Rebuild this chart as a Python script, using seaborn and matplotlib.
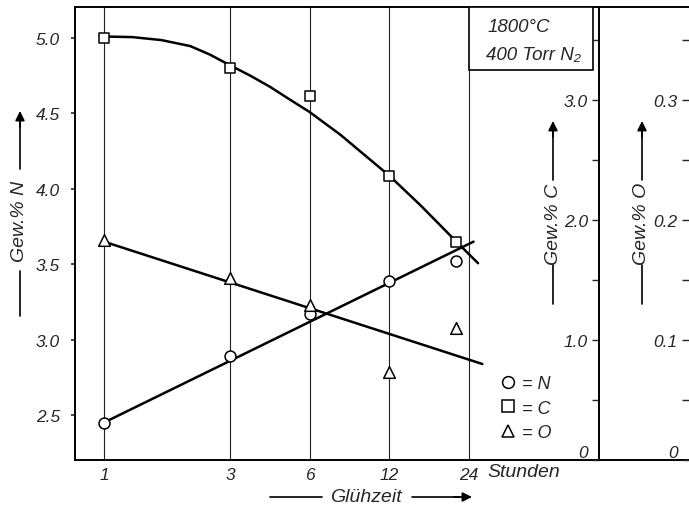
import numpy as np
import pandas as pd
import matplotlib
matplotlib.use("Agg")
import matplotlib.pyplot as plt
import seaborn as sns
from matplotlib.patches import Rectangle
from matplotlib.lines import Line2D
from matplotlib.ticker import NullLocator

# ---------------- data ----------------
hours = [1, 3, 6, 12, 21.5]
n_vals = [2.45, 2.89, 3.17, 3.39, 3.52]          # Gew.% N
c_vals = [3.52, 3.27, 3.03, 2.37, 1.82]          # Gew.% C
o_vals = [0.183, 0.152, 0.129, 0.073, 0.110]     # Gew.% O

n_fit_hours = [1, 25]
n_fit = [2.45, 3.65]
o_fit_hours = [1, 27]
o_fit = [0.182, 0.080]
c_fit_hours = [1, 1.28, 1.65, 2.12, 2.51, 3, 3.6, 4.25, 5.0, 6, 7.85, 10.2, 12, 15.8, 21.3, 26]
c_fit = [3.53, 3.525, 3.50, 3.45, 3.38, 3.29, 3.20, 3.11, 3.01, 2.90, 2.71, 2.50, 2.37, 2.12, 1.83, 1.64]

tick_hours = [1, 3, 6, 12, 24]
tick_labels = ["1", "3", "6", "12", "24"]
n_ticks = [2.5, 3.0, 3.5, 4.0, 4.5, 5.0]
n_tick_labels = ["2.5", "3.0", "3.5", "4.0", "4.5", "5.0"]
c_ticks = [0, 0.5, 1.0, 1.5, 2.0, 2.5, 3.0, 3.5]
c_tick_labels = ["0", "", "1.0", "", "2.0", "", "3.0", ""]
o_ticks = [0, 0.05, 0.1, 0.15, 0.2, 0.25, 0.3, 0.35]
o_tick_labels = ["0", "", "0.1", "", "0.2", "", "0.3", ""]

legend_labels = ["= N", "= C", "= O"]

# ---------------- style ----------------
sns.set_style("white")
plt.rcParams["font.family"] = ["Liberation Sans", "DejaVu Sans"]
plt.rcParams["font.style"] = "italic"
plt.rcParams["font.size"] = 12

fig = plt.figure(figsize=(6.89, 5.10), dpi=100)
ax = fig.add_axes([0.1089, 0.0961, 0.8904, 0.888])
ax.set_xscale("log")

LW = 1.8
mk = dict(facecolor="white", edgecolor="black", linewidth=1.1, zorder=5)

# N on main axis
sns.lineplot(x=n_fit_hours, y=n_fit, ax=ax, color="black", lw=LW,
             sort=False, estimator=None, zorder=4)
sns.scatterplot(x=hours, y=n_vals, ax=ax, marker="o", s=62, **mk)

# C axis
ax_c = ax.twinx()
sns.lineplot(x=c_fit_hours, y=c_fit, ax=ax_c, color="black", lw=LW,
             sort=False, estimator=None, zorder=4)
sns.scatterplot(x=hours, y=c_vals, ax=ax_c, marker="s", s=62, **mk)

# O axis
ax_o = ax.twinx()
sns.lineplot(x=o_fit_hours, y=o_fit, ax=ax_o, color="black", lw=LW,
             sort=False, estimator=None, zorder=4)
sns.scatterplot(x=hours, y=o_vals, ax=ax_o, marker="^", s=70, **mk)

# ---------------- axes ----------------
xmin, xmax = 0.777, 162.6
for a in (ax, ax_c, ax_o):
    a.set_xlim(xmin, xmax)
    a.set_xlabel("")
    a.set_ylabel("")
ax.set_ylim(2.2016, 5.2056)
ax_c.set_ylim(0, 3.775)
ax_o.set_ylim(0, 0.3775)

ax.set_xticks(tick_hours, labels=tick_labels)
ax.xaxis.set_minor_locator(NullLocator())
ax.tick_params(axis="x", length=0, pad=5, labelsize=12.5)
ax.set_yticks(n_ticks, labels=n_tick_labels)
ax.tick_params(axis="y", direction="out", length=3, width=1.2, pad=8, labelsize=12.5)
ax.grid(True, axis="x", which="major", color="#222222", lw=0.8)
ax.grid(False, axis="y")

for s in ("left", "bottom", "top"):
    ax.spines[s].set_visible(True)
    ax.spines[s].set_color("black")
    ax.spines[s].set_linewidth(1.4)
ax.spines["right"].set_visible(False)

c_frac = (599 - 75) / 613.5
for a, ticks, labels, pos, vis in ((ax_c, c_ticks, c_tick_labels, c_frac, True),
                                   (ax_o, o_ticks, o_tick_labels, 1.0, False)):
    for s in ("right", "top", "bottom"):
        a.spines[s].set_visible(False)
    a.spines["left"].set_visible(vis)
    a.spines["left"].set_position(("axes", pos))
    a.spines["left"].set_color("black")
    a.spines["left"].set_linewidth(1.4)
    a.yaxis.set_ticks_position("left")
    a.set_yticks(ticks, labels=labels)
    a.tick_params(axis="y", left=True, labelleft=True, right=False, labelright=False,
                  direction="out", length=5, width=1.0, pad=3, labelsize=12.5)
    a.grid(False)
    a.get_yticklabels()[0].set_verticalalignment("bottom")
    a.patch.set_visible(False)

# ---------------- condition box ----------------
x_box = (469 - 75) / 613.5
x_box2 = (593 - 75) / 613.5
y_box = (461 - 71) / 453
ax.add_patch(Rectangle((x_box, y_box), x_box2 - x_box, 1 - y_box,
                       transform=ax.transAxes, facecolor="white",
                       edgecolor="black", lw=1.2, zorder=3))
ax.text((487 - 75) / 613.5, (461 - 27) / 453, "1800°C", transform=ax.transAxes,
        ha="left", va="center", fontsize=13.5, zorder=6)
ax.text((486 - 75) / 613.5, (461 - 55) / 453, "400 Torr N₂", transform=ax.transAxes,
        ha="left", va="center", fontsize=13.5, zorder=6)

# ---------------- legend ----------------
handles = [Line2D([], [], ls="none", marker=m, ms=8.5, mfc="white", mec="black", mew=1.1)
           for m in ("o", "s", "^")]
leg = ax_o.legend(handles, legend_labels, loc="upper left",
                  bbox_to_anchor=((500 - 75) / 613.5, (461 - 376) / 453),
                  frameon=False, handlelength=0.9, handletextpad=0.3,
                  borderpad=0, borderaxespad=0, labelspacing=0.42, fontsize=13)

# ---------------- axis titles with arrows ----------------
def fx(px):
    return px / 689

def fy(py):
    return (510 - py) / 510

def vlabel(x, text, y_text, y_line_bot, y_text_bot, y_text_top, y_arrow_top):
    fig.text(fx(x), fy(y_text), text, rotation=90, ha="center", va="center",
             fontsize=14)
    fig.add_artist(Line2D([fx(x), fx(x)], [fy(y_line_bot), fy(y_text_bot)],
                          color="black", lw=1.2, transform=fig.transFigure))
    fig.add_artist(Line2D([fx(x), fx(x)], [fy(y_text_top), fy(y_arrow_top + 10)],
                          color="black", lw=1.2, transform=fig.transFigure))
    ax.annotate("", xy=(fx(x), fy(y_arrow_top)), xytext=(fx(x), fy(y_arrow_top + 16)),
                xycoords="figure fraction", textcoords="figure fraction",
                arrowprops=dict(arrowstyle="-|>", color="black", lw=1.2,
                                mutation_scale=14, shrinkA=0, shrinkB=0))

vlabel(20, "Gew.% N", 221, 317, 272, 170, 112)
vlabel(553, "Gew.% C", 224, 305, 266, 181, 122)
vlabel(642, "Gew.% O", 224, 305, 266, 181, 122)

fig.text(fx(366), fy(498), "Glühzeit", ha="center", va="center", fontsize=14)
fig.add_artist(Line2D([fx(270), fx(322)], [fy(498), fy(498)], color="black", lw=1.2,
                      transform=fig.transFigure))
fig.add_artist(Line2D([fx(412), fx(460)], [fy(498), fy(498)], color="black", lw=1.2,
                      transform=fig.transFigure))
ax.annotate("", xy=(fx(472), fy(498)), xytext=(fx(454), fy(498)),
            xycoords="figure fraction", textcoords="figure fraction",
            arrowprops=dict(arrowstyle="-|>", color="black", lw=1.2,
                            mutation_scale=14, shrinkA=0, shrinkB=0))
fig.text(fx(487), fy(473), "Stunden", ha="left", va="center", fontsize=14)

fig.savefig("out.png", dpi=100)
